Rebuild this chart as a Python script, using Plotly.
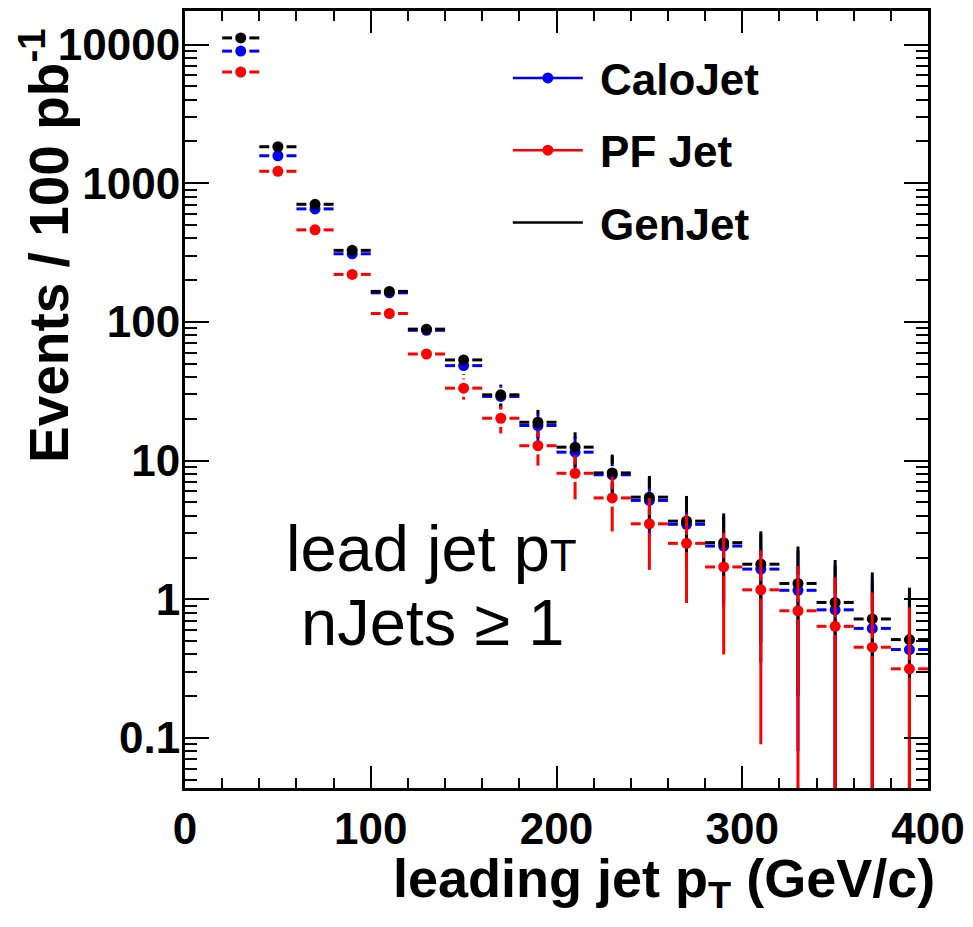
import plotly.graph_objects as go

# ---------------- data ----------------
bin_width = 20
pt_centers = [30, 50, 70, 90, 110, 130, 150, 170, 190, 210, 230, 250, 270, 290, 310, 330, 350, 370, 390]

gen_vals = [11170, 1833, 705, 328, 166, 88.7, 53.2, 29.8, 18.9, 12.5, 8.15, 5.45, 3.66, 2.56, 1.79, 1.30, 0.949, 0.721, 0.512]
gen_errs = [105.7, 42.8, 26.6, 18.1, 12.9, 9.4, 7.3, 5.5, 4.3, 3.5, 2.9, 2.3, 1.9, 1.6, 1.3, 1.1, 0.97, 0.84, 0.70]

calo_vals = [8970, 1578, 653, 310, 162, 87, 48.4, 29.0, 17.9, 11.5, 7.9, 5.16, 3.47, 2.42, 1.65, 1.16, 0.839, 0.616, 0.434]
calo_errs = [94.7, 39.7, 25.6, 17.6, 12.7, 9.3, 7.0, 5.4, 4.2, 3.4, 2.8, 2.3, 1.85, 1.55, 1.3, 1.08, 0.92, 0.78, 0.66]

pf_vals = [6340, 1219, 461, 220, 115, 58.7, 33.3, 20.2, 12.8, 8.1, 5.38, 3.5, 2.53, 1.71, 1.17, 0.826, 0.638, 0.451, 0.315]
pf_errs = [79.6, 34.9, 21.5, 14.8, 10.7, 7.7, 5.8, 4.5, 3.6, 2.85, 2.3, 1.87, 1.59, 1.31, 1.08, 0.91, 0.80, 0.67, 0.56]

y_tick_vals = [0.1, 1, 10, 100, 1000, 10000]
y_tick_text = ["0.1", "1", "10", "100", "1000", "10000"]
x_tick_vals = [0, 100, 200, 300, 400]

# ---------------- style ----------------
W, H = 973, 927
ML, MR, MT, MB = 185, 40, 8, 139
PW, PH = W - ML - MR, H - MT - MB
X_RANGE = [0, 400]
Y_RANGE = [-1.361, 4.242]
GAP_PX = 8.7
gap_x = GAP_PX * (X_RANGE[1] - X_RANGE[0]) / PW
gap_dec = GAP_PX * (Y_RANGE[1] - Y_RANGE[0]) / PH
LW = 3
MS = 11
FONT = "Liberation Sans, Arial, Helvetica, sans-serif"


def error_segments(xs, ys, es):
    X, Y = [], []
    half = bin_width / 2.0
    for x, y, e in zip(xs, ys, es):
        X += [x - half, x - gap_x, None, x + gap_x, x + half, None]
        Y += [y, y, None, y, y, None]
        up, lo = y + e, y - e
        g_up, g_lo = y * 10 ** gap_dec, y / 10 ** gap_dec
        if up > g_up:
            X += [x, x, None]
            Y += [g_up, up, None]
        if lo < g_lo:
            X += [x, x, None]
            Y += [max(lo, 1e-4), g_lo, None]
    return X, Y


fig = go.Figure()

series = [
    ("CaloJet", calo_vals, calo_errs, "#0000ff"),
    ("GenJet", gen_vals, gen_errs, "#000000"),
    ("PF Jet", pf_vals, pf_errs, "#ff0000"),
]
for name, vals, errs, col in series:
    sx, sy = error_segments(pt_centers, vals, errs)
    fig.add_trace(go.Scatter(x=sx, y=sy, mode="lines", line=dict(color=col, width=LW),
                             showlegend=False, hoverinfo="skip"))
    fig.add_trace(go.Scatter(x=pt_centers, y=vals, mode="markers",
                             marker=dict(color=col, size=MS, line=dict(width=0)),
                             showlegend=False, name=name))

# legend entries
legend_items = [("CaloJet", "#0000ff", "lines+markers"),
                ("PF Jet", "#ff0000", "lines+markers"),
                ("GenJet", "#000000", "lines")]
for i, (name, col, mode) in enumerate(legend_items):
    fig.add_trace(go.Scatter(x=[None], y=[None], mode=mode, name="\u00a0" + name,
                             line=dict(color=col, width=2.5),
                             marker=dict(color=col, size=MS),
                             legendgroup="g%d" % i, showlegend=True))

axis_common = dict(
    showline=True, linecolor="black", linewidth=3, mirror="ticks",
    ticks="inside", tickcolor="black", tickwidth=2,
    showgrid=False, zeroline=False,
    tickfont=dict(family=FONT, size=44, color="black", weight="bold"),
)

fig.update_xaxes(range=X_RANGE, tickvals=x_tick_vals, ticklen=22,
                 minor=dict(dtick=20, tick0=0, ticks="inside", ticklen=10,
                            tickcolor="black", tickwidth=2, showgrid=False),
                 **axis_common)
fig.update_yaxes(type="log", range=Y_RANGE, tickvals=y_tick_vals, ticktext=y_tick_text,
                 ticklen=24, ticklabelstandoff=-7,
                 minor=dict(dtick="D1", ticks="inside", ticklen=12,
                            tickcolor="black", tickwidth=2, showgrid=False),
                 **axis_common)


def px_to_paper_x(px):
    return (px - ML) / PW


def px_to_paper_y(py):
    return (H - MB - py) / PH


annotations = [
    dict(text="leading jet p<sub>T</sub> (GeV/c)", x=px_to_paper_x(942), y=px_to_paper_y(882),
         xref="paper", yref="paper", xanchor="right", yanchor="middle", showarrow=False,
         font=dict(family=FONT, size=54, color="black", weight="bold")),
    dict(text="Events / 100 pb<sup>-1</sup>", x=px_to_paper_x(44), y=px_to_paper_y(243),
         xref="paper", yref="paper", xanchor="center", yanchor="middle", showarrow=False,
         textangle=-90,
         font=dict(family=FONT, size=55, color="black", weight="bold")),
    dict(text='lead jet p<span style="font-size:44px">T</span>', x=px_to_paper_x(433),
         y=px_to_paper_y(548), xref="paper", yref="paper", xanchor="center", yanchor="middle",
         showarrow=False, font=dict(family=FONT, size=65, color="black")),
    dict(text="nJets \u2265 1", x=px_to_paper_x(434), y=px_to_paper_y(622),
         xref="paper", yref="paper", xanchor="center", yanchor="middle",
         showarrow=False, font=dict(family=FONT, size=65, color="black")),
]

fig.update_layout(
    width=W, height=H,
    margin=dict(l=ML, r=MR, t=MT, b=MB, pad=0),
    paper_bgcolor="white", plot_bgcolor="white",
    annotations=annotations,
    showlegend=True,
    legend=dict(x=px_to_paper_x(510), y=px_to_paper_y(40), xanchor="left", yanchor="top",
                bgcolor="rgba(0,0,0,0)", borderwidth=0, itemwidth=70,
                tracegroupgap=12, traceorder="grouped",
                font=dict(family=FONT, size=44, color="black", weight="bold")),
)

fig.write_html(
    "out.html",
    config={"displayModeBar": False},
    post_script="document.body.style.margin='0';document.body.style.padding='0';"
                "document.body.style.overflow='hidden';"
                "document.documentElement.style.overflow='hidden';",
)
